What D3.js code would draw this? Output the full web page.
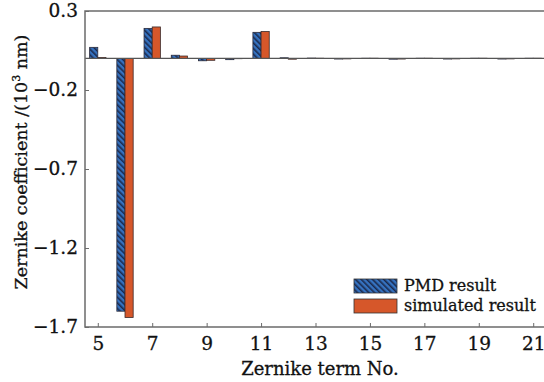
<!DOCTYPE html>
<html>
<head>
<meta charset="utf-8">
<script src="https://cdn.jsdelivr.net/npm/d3@7/dist/d3.min.js"></script>
<style>
  html, body { margin: 0; padding: 0; background: #fff; }
  svg { display: block; }
  text { font-family: "DejaVu Serif", "Liberation Serif", serif; fill: #111; stroke: #111; stroke-width: 0.3px; }
</style>
</head>
<body>
<svg id="chart" width="544" height="382"></svg>
<script>
// Zernike terms 5..21
const terms = d3.range(5, 22);
// Coefficients in units of 10^3 nm
const pmdResult = [0.07, -1.60, 0.19, 0.02, -0.015, -0.008, 0.165, 0.004, 0.002, -0.004, 0.001, -0.005, 0.001, -0.004, 0.001, -0.004, 0.001];
const simResult = [0.006, -1.64, 0.199, 0.015, -0.012, -0.002, 0.17, -0.005, 0.001, -0.003, 0.001, -0.004, 0.001, -0.003, 0.001, -0.003, 0.001];
const xTicks = [5, 7, 9, 11, 13, 15, 17, 19, 21];
const yTicks = [0.3, -0.2, -0.7, -1.2, -1.7];
const seriesNames = ["PMD result", "simulated result"];

const svg = d3.select("#chart");
const margin = { left: 85, top: 11, right: -2, bottom: 55 };
const W = 544, H = 382;

const x = d3.scaleLinear().domain([4.53, 21.47]).range([margin.left, W - margin.right]);
const y = d3.scaleLinear().domain([-1.7, 0.3]).range([H - margin.bottom, margin.top]);

// diagonal hatch for the PMD series (lines running top-left to bottom-right)
const defs = svg.append("defs");
const pat = defs.append("pattern")
  .attr("id", "hatch")
  .attr("patternUnits", "userSpaceOnUse")
  .attr("width", 4).attr("height", 4)
  .attr("patternTransform", "rotate(-45)");
pat.append("rect").attr("width", 4).attr("height", 4).attr("fill", "#3572c0");
pat.append("rect").attr("x", 0).attr("width", 1.6).attr("height", 4).attr("fill", "#1b2a4e");

const bw = x(5.3) - x(5);
const frameColor = "#6b6b6b";

// bars
const g = svg.append("g");
g.selectAll("rect.pmd").data(terms).join("rect")
  .attr("class", "pmd")
  .attr("x", d => x(d) - bw)
  .attr("width", bw)
  .attr("y", (d, i) => y(Math.max(0, pmdResult[i])))
  .attr("height", (d, i) => Math.abs(y(pmdResult[i]) - y(0)))
  .attr("fill", "url(#hatch)")
  .attr("stroke", "#2a2a3a").attr("stroke-width", 0.8);

g.selectAll("rect.sim").data(terms).join("rect")
  .attr("class", "sim")
  .attr("x", d => x(d))
  .attr("width", bw)
  .attr("y", (d, i) => y(Math.max(0, simResult[i])))
  .attr("height", (d, i) => Math.abs(y(simResult[i]) - y(0)))
  .attr("fill", "#d6572a")
  .attr("stroke", "#3a2a2a").attr("stroke-width", 0.8);

// zero baseline
svg.append("line")
  .attr("x1", x.range()[0]).attr("x2", x.range()[1])
  .attr("y1", y(0)).attr("y2", y(0))
  .attr("stroke", "#555").attr("stroke-width", 1.2);

// frame
svg.append("path")
  .attr("d", `M${x.range()[1]},${y(0.3)}H${x.range()[0]}V${y(-1.7)}H${x.range()[1]}`)
  .attr("fill", "none").attr("stroke", frameColor).attr("stroke-width", 1.5);

// x axis ticks (inward)
const xAxis = svg.append("g").attr("transform", `translate(0,${y(-1.7)})`)
  .call(d3.axisBottom(x).tickValues(xTicks).tickSizeInner(-4).tickSizeOuter(0).tickPadding(9));
xAxis.select(".domain").remove();
xAxis.selectAll(".tick line").attr("stroke", frameColor);
xAxis.selectAll(".tick text").attr("font-size", 18.5).attr("dy", "0.75em")
  .style("font-family", "DejaVu Serif");

// y axis ticks (inward)
const yAxis = svg.append("g").attr("transform", `translate(${x.range()[0]},0)`)
  .call(d3.axisLeft(y).tickValues(yTicks).tickSizeInner(-4).tickSizeOuter(0).tickPadding(7)
    .tickFormat(d => d3.format(".1f")(d).replace("-", "\u2212")));
yAxis.select(".domain").remove();
yAxis.selectAll(".tick line").attr("stroke", frameColor);
yAxis.selectAll(".tick text").attr("font-size", 18.5)
  .style("font-family", "DejaVu Serif");

// axis titles
svg.append("text")
  .attr("x", 320).attr("y", 375)
  .attr("text-anchor", "middle")
  .attr("font-size", 18)
  .text("Zernike term No.");

const yt = svg.append("text")
  .attr("transform", `translate(27,${162}) rotate(-90)`)
  .attr("text-anchor", "middle")
  .attr("font-size", 17.5);
yt.append("tspan").text("Zernike coefficient  /(10");
yt.append("tspan").attr("font-size", 11).attr("dy", -7).text("3");
yt.append("tspan").attr("dy", 7).text(" nm)");

// legend
const leg = svg.append("g").attr("transform", "translate(354,279)");
const fills = ["url(#hatch)", "#d6572a"];
seriesNames.forEach((name, i) => {
  leg.append("rect")
    .attr("x", 0).attr("y", i * 20)
    .attr("width", 43).attr("height", 14)
    .attr("fill", fills[i]).attr("stroke", "#333").attr("stroke-width", 0.8);
  leg.append("text")
    .attr("x", 50).attr("y", i * 20 + 12)
    .attr("font-size", 16)
    .text(name);
});
</script>
</body>
</html>
